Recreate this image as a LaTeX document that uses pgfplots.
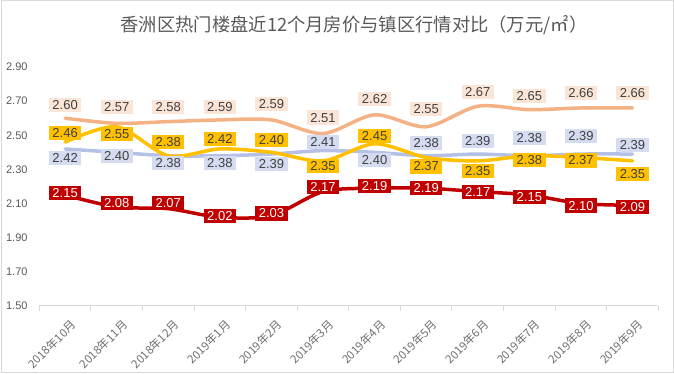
\documentclass[border=0pt]{standalone}
\usepackage{pgfplots}
\usepackage{pgfplotstable}
\usepackage{fontspec}
\pgfplotsset{compat=1.18}
\setmainfont{Liberation Sans}
\newfontfamily\cjk{Noto Sans CJK SC}
\definecolor{peachline}{HTML}{F4B183}
\definecolor{peachbg}{HTML}{FBE5D6}
\definecolor{goldc}{HTML}{FFC000}
\definecolor{blueline}{HTML}{B4C0E6}
\definecolor{bluebg}{HTML}{D5DBF1}
\definecolor{redc}{HTML}{C00000}
\definecolor{tickgray}{HTML}{595959}
\definecolor{xgray}{HTML}{6F6F6F}
\definecolor{axisgray}{HTML}{D9D9D9}
\definecolor{labeltext}{HTML}{404040}

\pgfplotstableread{
x  peach pdy gold gdy blue bdy red rdy
0  2.60 13  2.46  9  2.42 -9  2.15  2
1  2.57 16  2.55 -7  2.40 -4  2.08  4
2  2.58 15  2.38 14  2.38 -7  2.07  6
3  2.59 13  2.42 10  2.38 -7  2.02  1
4  2.59 16  2.40 12  2.39 -10 2.03  2
5  2.51 16  2.35 -5  2.41  9  2.17  5
6  2.62 16  2.45  8  2.40 -8  2.19  2
7  2.55 18  2.37 -9  2.38 13  2.19  0
8  2.67 14  2.35 -10 2.39 13  2.17  0
9  2.65 14  2.38 -4  2.38 18  2.15 -2
10 2.66 15  2.37 -3  2.39 18  2.10 -2
11 2.66 15  2.35 -13 2.39  9  2.09 -2
}\datatable

\newcommand{\labelplot}[4]{%
\addplot[draw=none, mark=none, point meta=explicit symbolic,
  nodes near coords,
  visualization depends on={\thisrow{#2} \as \dyv},
  nodes near coords style={anchor=center, yshift=\dyv pt, fill=#3, text=#4,
    font=\fontsize{13}{13}\selectfont, inner xsep=3.5pt, inner ysep=2.5pt}]
  table[x=x, y=#1, meta=#1]{\datatable};
}

\begin{document}
\begin{tikzpicture}
\path[use as bounding box] (0,0) rectangle (674pt,374pt);
\draw[axisgray, line width=1pt] (1pt,1pt) rectangle (673pt,373pt);
\node[text=tickgray, font=\cjk\fontsize{18.3}{18.3}\selectfont] at (354pt,349pt) {香洲区热门楼盘近12个月房价与镇区行情对比（万元/㎡）};
\begin{axis}[
  at={(39.3pt,68pt)}, anchor=south west,
  scale only axis, width=619pt, height=239pt,
  xmin=-0.5, xmax=11.5, ymin=1.5, ymax=2.9,
  clip=false,
  axis x line*=bottom, axis y line*=left,
  y axis line style={draw=none},
  x axis line style={draw=axisgray, line width=1pt},
  xtick={0,...,11},
  xticklabels={2018年10月,2018年11月,2018年12月,2019年1月,2019年2月,2019年3月,2019年4月,2019年5月,2019年6月,2019年7月,2019年8月,2019年9月},
  minor xtick={-0.5,0.5,...,11.5},
  major x tick style={draw=none},
  minor x tick style={draw=axisgray, line width=1pt},
  minor tick length=5pt,
  tick align=outside,
  ytick={1.5,1.7,1.9,2.1,2.3,2.5,2.7,2.9},
  ytick style={draw=none},
  /pgf/number format/assume math mode=true,
  yticklabel style={/pgf/number format/fixed, /pgf/number format/fixed zerofill, /pgf/number format/precision=2, font=\fontsize{11}{11}\selectfont, text=tickgray, anchor=east, xshift=-4pt},
  xticklabel style={font=\cjk\fontsize{11.5}{11.5}\selectfont, text=xgray, xshift=11pt, yshift=-10pt, rotate=45, anchor=east},
]
\addplot[blueline, line width=3.5pt, smooth, line cap=round, mark=none] table[x=x,y=blue]{\datatable};
\addplot[goldc, line width=3.5pt, smooth, line cap=round, mark=none] table[x=x,y=gold]{\datatable};
\addplot[peachline, line width=3.5pt, smooth, line cap=round, mark=none] table[x=x,y=peach]{\datatable};
\addplot[redc, line width=3.5pt, smooth, line cap=round, mark=none] table[x=x,y=red]{\datatable};
\labelplot{blue}{bdy}{bluebg}{labeltext}
\labelplot{gold}{gdy}{goldc}{labeltext}
\labelplot{peach}{pdy}{peachbg}{labeltext}
\labelplot{red}{rdy}{redc}{white}
\end{axis}
\end{tikzpicture}
\end{document}
